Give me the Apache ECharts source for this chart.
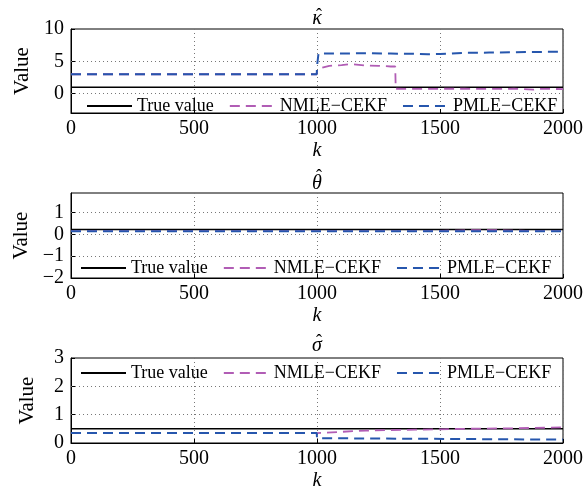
<!DOCTYPE html>
<html>
<head>
<meta charset="utf-8">
<script src="https://cdn.jsdelivr.net/npm/echarts@6/dist/echarts.min.js"></script>
<style>
    html, body { margin: 0; padding: 0; background: #fff; }
    #chart { width: 586px; height: 496px; }
</style>
</head>
<body>
<div id="chart"></div>
<script>
    // kappa
    var kapTrueK = [0, 2000];
    var kapTrueV = [1, 1];
    var kapNmleK = [0, 999, 1000, 1010, 1050, 1100, 1130, 1160, 1200, 1250, 1300, 1318, 1320, 1400, 1500, 1600, 1700, 1800, 1880, 1900, 1950, 2000];
    var kapNmleV = [3, 3, 3.7, 3.9, 4.3, 4.4, 4.55, 4.5, 4.35, 4.3, 4.2, 4.2, 0.75, 0.72, 0.75, 0.75, 0.72, 0.75, 0.62, 0.72, 0.72, 0.7];
    var kapPmleK = [0, 999, 1000, 1003, 1006, 1100, 1200, 1300, 1400, 1450, 1500, 1600, 1700, 1800, 1900, 2000];
    var kapPmleV = [3, 3, 4.2, 4.2, 6.2, 6.2, 6.25, 6.2, 6.15, 6.1, 6.15, 6.3, 6.35, 6.4, 6.45, 6.5];
    // theta
    var thTrueK = [0, 2000];
    var thTrueV = [0.22, 0.22];
    var thNmleK = [0, 1400, 1550, 1650, 1750, 1850, 2000];
    var thNmleV = [0.15, 0.15, 0.17, 0.2, 0.19, 0.16, 0.15];
    var thPmleK = [0, 1000, 1500, 2000];
    var thPmleV = [0.15, 0.15, 0.15, 0.15];
    // sigma
    var sgTrueK = [0, 2000];
    var sgTrueV = [0.5, 0.5];
    var sgNmleK = [0, 999, 1000, 1200, 1400, 1600, 1800, 2000];
    var sgNmleV = [0.35, 0.35, 0.42, 0.44, 0.47, 0.5, 0.52, 0.55];
    var sgPmleK = [0, 999, 1000, 1200, 1400, 1600, 1800, 2000];
    var sgPmleV = [0.35, 0.35, 0.17, 0.16, 0.15, 0.14, 0.13, 0.12];

    var names = ['True value', 'NMLE\u2212CEKF', 'PMLE\u2212CEKF'];
    var titles = ['\u03BA', '\u03B8', '\u03C3'];
    var yRanges = [[-3, 10], [-2, 1.9], [0, 3]];
    var yTicks = [[0, 5, 10], [-2, -1, 0, 1], [0, 1, 2, 3]];
    var xTicks = [0, 500, 1000, 1500, 2000];

    var font = 'Liberation Serif';
    var tops = [29, 193, 358];
    var heights = [84, 85, 85];
    var legendTops = [97, 259, 364];
    var legendLefts = [86, 80, 80];
    var titleTops = [9, 174, 336];
    var hatTops = [7, 168, 333];

    function pairs(ks, vs) {
        return ks.map(function (k, i) { return [k, vs[i]]; });
    }

    var sets = [
        [pairs(kapTrueK, kapTrueV), pairs(kapNmleK, kapNmleV), pairs(kapPmleK, kapPmleV)],
        [pairs(thTrueK, thTrueV), pairs(thNmleK, thNmleV), pairs(thPmleK, thPmleV)],
        [pairs(sgTrueK, sgTrueV), pairs(sgNmleK, sgNmleV), pairs(sgPmleK, sgPmleV)]
    ];
    var styles = [
        { color: '#000000', width: 1.5, type: 'solid' },
        { color: '#b15db5', width: 1.8, type: [10, 6] },
        { color: '#2656ad', width: 2, type: [10, 6] }
    ];
    var gridDots = { color: '#777', width: 1, type: [1, 3] };

    var grid = [], xAxis = [], yAxis = [], series = [], title = [], legend = [];
    for (var p = 0; p < 3; p++) {
        grid.push({ left: 71, width: 492, top: tops[p], height: heights[p], show: true, borderColor: '#000', borderWidth: 1 });
        title.push({
            text: titles[p], left: 317, textAlign: 'center', top: titleTops[p], padding: 0,
            textStyle: { fontFamily: font, fontStyle: 'italic', fontWeight: 'normal', fontSize: 20, color: '#000' }
        });
        title.push({
            text: '\u02C6', left: 319, textAlign: 'center', top: hatTops[p], padding: 0,
            textStyle: { fontFamily: font, fontWeight: 'normal', fontSize: 18, color: '#000' }
        });
        xAxis.push({
            gridIndex: p, type: 'value', min: xTicks[0], max: xTicks[xTicks.length - 1], interval: xTicks[1] - xTicks[0],
            name: 'k', nameLocation: 'middle', nameGap: 28,
            nameTextStyle: { fontFamily: font, fontStyle: 'italic', fontSize: 20, color: '#000' },
            axisLine: { onZero: false, lineStyle: { color: '#000', width: 1 } },
            axisTick: { inside: true, length: 4, lineStyle: { color: '#000' } },
            axisLabel: { fontFamily: font, fontSize: 20, color: '#000', margin: 6, formatter: function (v) { return String(v); } },
            splitLine: { lineStyle: gridDots }
        });
        yAxis.push({
            gridIndex: p, type: 'value', min: yRanges[p][0], max: yRanges[p][1],
            name: 'Value', nameLocation: 'middle', nameGap: 33,
            nameTextStyle: { fontFamily: font, fontSize: 21, color: '#000' },
            axisLine: { onZero: false, lineStyle: { color: '#000', width: 1 } },
            axisTick: { inside: true, length: 4, customValues: yTicks[p], lineStyle: { color: '#000' } },
            axisLabel: { fontFamily: font, fontSize: 20, color: '#000', margin: 7, customValues: yTicks[p],
                formatter: function (v) { return String(v).replace('-', '\u2212'); } },
            splitLine: { show: false }
        });
        legend.push({
            data: names, left: legendLefts[p], top: legendTops[p], padding: 0, itemGap: 15,
            itemWidth: 45, itemHeight: 14, selectedMode: false,
            itemStyle: { opacity: 0 },
            textStyle: { fontFamily: font, fontSize: 18, color: '#000' }
        });
        for (var s = 0; s < 3; s++) {
            var ser = {
                name: names[s], type: 'line', xAxisIndex: p, yAxisIndex: p,
                data: sets[p][s], symbol: 'none', animation: false,
                color: styles[s].color,
                lineStyle: { color: styles[s].color, width: styles[s].width, type: styles[s].type }
            };
            if (s === 0) {
                // horizontal dotted grid lines at the labelled ticks
                ser.markLine = {
                    silent: true, symbol: 'none', label: { show: false }, animation: false,
                    lineStyle: gridDots,
                    data: yTicks[p].filter(function (t) { return t > yRanges[p][0] && t < yRanges[p][1]; })
                        .map(function (t) { return { yAxis: t }; })
                };
                ser.z = 1;
            }
            series.push(ser);
        }
    }

    var chart = echarts.init(document.getElementById('chart'));
    chart.setOption({
        animation: false,
        backgroundColor: '#fff',
        title: title,
        legend: legend,
        grid: grid,
        xAxis: xAxis,
        yAxis: yAxis,
        series: series
    });
</script>
</body>
</html>
